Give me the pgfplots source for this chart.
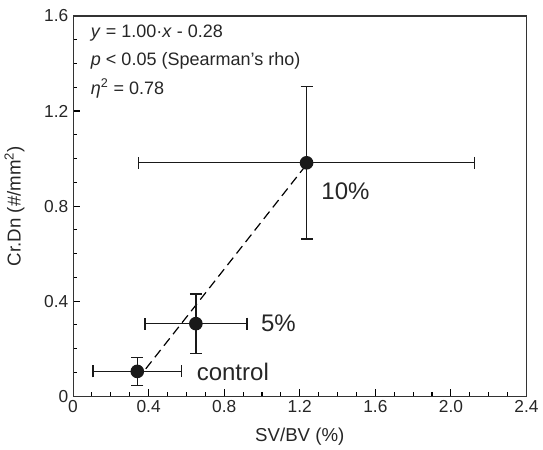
\documentclass[border=0pt]{standalone}
\usepackage{pgfplots}
\usepackage{pgfplotstable}
\usepackage{fontspec}
\setmainfont{Liberation Sans}
\pgfplotsset{compat=1.18}

\pgfplotstableread{
x     y      ex     ey
0.34  0.104  0.234  0.058
0.65  0.305  0.27   0.125
1.236 0.982  0.89   0.32
}\points

\begin{document}
\begin{tikzpicture}
\begin{axis}[
    scale only axis,
    width=340pt, height=285pt,
    xmin=0, xmax=2.4, ymin=0, ymax=1.6,
    xtick={0,0.4,...,2.4}, ytick={0,0.4,...,1.6},
    minor x tick num=3, minor y tick num=3,
    xticklabels={0,0.4,0.8,1.2,1.6,2.0,2.4},
    yticklabels={0,0.4,0.8,1.2,1.6},
    tick align=inside, xtick pos=bottom, ytick pos=left,
    major tick length=5.5pt, minor tick length=3pt,
    every tick/.style={black, line width=0.8pt},
    axis line style={black!80, line width=0.8pt},
    /pgf/number format/assume math mode=true,
    tick label style={font=\fontsize{13}{15}\selectfont, color=black!85},
    xlabel={SV/BV (\%)}, ylabel={Cr.Dn (\#/mm\textsuperscript{2})},
    label style={font=\fontsize{14}{16}\selectfont, color=black!85},
    xlabel style={yshift=-4pt},
    ylabel style={yshift=8pt},
    clip=false,
]
\addplot[black, line width=0.9pt, dash pattern=on 7pt off 4pt] coordinates {(0.385,0.115) (1.236,0.975)};
\addplot[black!90, line width=1pt, only marks,
    mark=*, mark size=4.6pt,
    error bars/.cd,
      x dir=both, x explicit, y dir=both, y explicit,
      error bar style={line width=1pt, black!90},
      error mark options={rotate=90, mark size=4.5pt, line width=1pt, black!90}]
    table[x=x, y=y, x error=ex, y error=ey] {\points};
\node[anchor=west, font=\fontsize{18}{21}\selectfont, color=black!85] at (axis cs:0.63,0.10) {control};
\node[anchor=west, font=\fontsize{18}{21}\selectfont, color=black!85] at (axis cs:0.97,0.305) {5\%};
\node[anchor=west, font=\fontsize{18}{21}\selectfont, color=black!85] at (axis cs:1.29,0.862) {10\%};
\node[anchor=west, font=\fontsize{13.5}{16}\selectfont, color=black!85] at (axis cs:0.07,1.53) {\textit{y} = 1.00·\textit{x} - 0.28};
\node[anchor=west, font=\fontsize{13.5}{16}\selectfont, color=black!85] at (axis cs:0.07,1.41) {\textit{p} < 0.05 (Spearman’s rho)};
\node[anchor=west, font=\fontsize{13.5}{16}\selectfont, color=black!85] at (axis cs:0.07,1.295) {\textit{η}\textsuperscript{2} = 0.78};
\path (rel axis cs:0,1) -- ++(0pt,12pt);
\end{axis}
\end{tikzpicture}
\end{document}
